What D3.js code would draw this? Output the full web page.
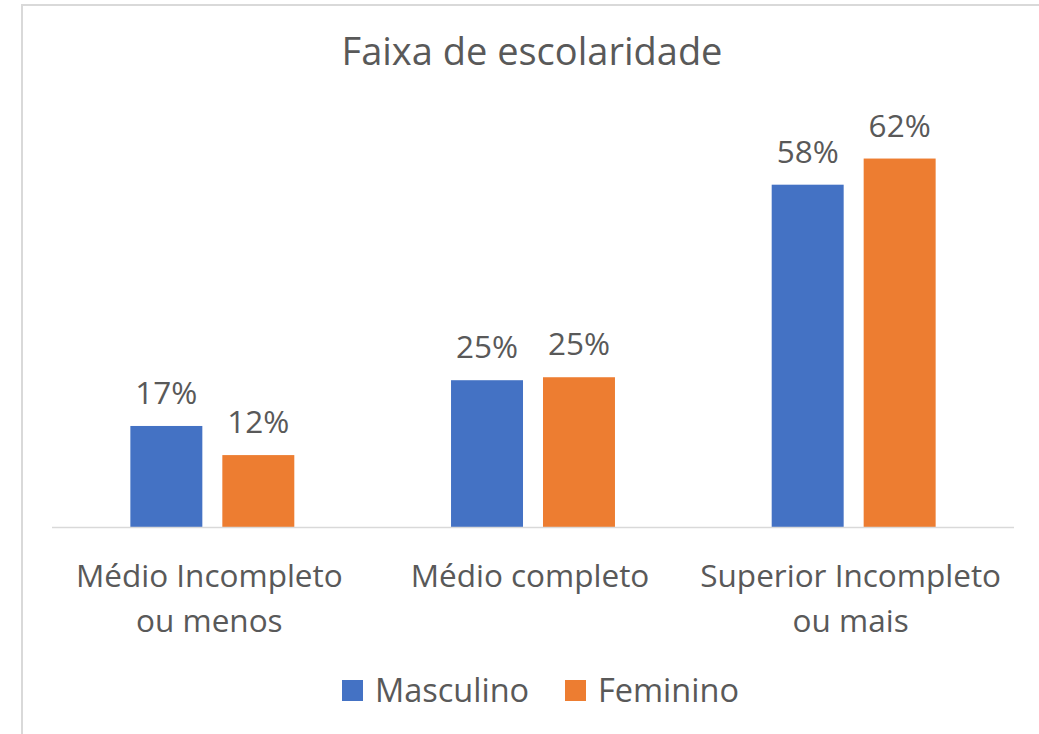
<!DOCTYPE html>
<html lang="en">
<head>
    <meta charset="UTF-8">
    <title>Faixa de escolaridade</title>
    <script src="https://d3js.org/d3.v7.min.js"></script>
    <style>
        body { margin: 0; background: #fff; }
        text { font-family: "Open Sans", "Noto Sans", sans-serif; fill: #595959; }
    </style>
</head>
<body>
    <svg></svg>
    <script>
        const categories = [["Médio Incompleto", "ou menos"], ["Médio completo"], ["Superior Incompleto", "ou mais"]];
        const series = ["Masculino", "Feminino"];
        const masculino = [17, 24.7, 57.6];
        const feminino = [12.1, 25.2, 62];
        const colors = ["#4472C4", "#ED7D31"];

        const width = 1039;
        const height = 734;

        const svg = d3.select("svg")
            .attr("width", width)
            .attr("height", height);

        // chart frame (runs off the right and bottom edge)
        svg.append("rect")
            .attr("x", 22)
            .attr("y", 5)
            .attr("width", 1100)
            .attr("height", 800)
            .attr("fill", "none")
            .attr("stroke", "#D9D9D9")
            .attr("stroke-width", 2);

        svg.append("text")
            .attr("x", 532)
            .attr("y", 65)
            .attr("text-anchor", "middle")
            .style("font-size", "38px")
            .text("Faixa de escolaridade");

        const x0 = d3.scaleBand()
            .domain(d3.range(categories.length))
            .range([52, 1014]);

        const x1 = d3.scaleBand()
            .domain(series)
            .range([0, x0.bandwidth()])
            .paddingInner(0.2174)
            .paddingOuter(0.852);

        const y = d3.scaleLinear()
            .domain([0, 70])
            .range([527, 111]);

        const rows = categories.map((c, i) => ({
            i: i,
            values: [masculino[i], feminino[i]]
        }));

        const groups = svg.selectAll(".group")
            .data(rows)
            .enter()
            .append("g")
            .attr("class", "group")
            .attr("transform", d => `translate(${x0(d.i)},0)`);

        groups.selectAll("rect")
            .data(d => d.values.map((v, j) => ({ key: series[j], value: v, j: j })))
            .enter()
            .append("rect")
            .attr("x", d => x1(d.key))
            .attr("y", d => y(d.value))
            .attr("width", x1.bandwidth())
            .attr("height", d => y(0) - y(d.value))
            .attr("fill", d => colors[d.j]);

        groups.selectAll(".label")
            .data(d => d.values.map((v, j) => ({ key: series[j], value: v, j: j })))
            .enter()
            .append("text")
            .attr("class", "label")
            .attr("x", d => x1(d.key) + x1.bandwidth() / 2)
            .attr("y", d => y(d.value) - 22)
            .attr("text-anchor", "middle")
            .style("font-size", "31.5px")
            .text(d => Math.round(d.value) + "%");

        // baseline
        svg.append("line")
            .attr("x1", 52)
            .attr("x2", 1014)
            .attr("y1", y(0) + 0.5)
            .attr("y2", y(0) + 0.5)
            .attr("stroke", "#D9D9D9")
            .attr("stroke-width", 1.5);

        // category labels
        const catLabels = svg.selectAll(".cat")
            .data(categories)
            .enter()
            .append("text")
            .attr("class", "cat")
            .attr("text-anchor", "middle")
            .style("font-size", "31.5px");

        catLabels.selectAll("tspan")
            .data((d, i) => d.map(line => ({ line: line, i: i })))
            .enter()
            .append("tspan")
            .attr("x", d => x0(d.i) + x0.bandwidth() / 2 - 3)
            .attr("y", (d, k) => 587 + k * 45)
            .text(d => d.line);

        // legend
        const legendX = [342, 565];
        const legend = svg.selectAll(".legend")
            .data(series)
            .enter()
            .append("g")
            .attr("class", "legend")
            .attr("transform", (d, i) => `translate(${legendX[i]},680)`);

        legend.append("rect")
            .attr("width", 21)
            .attr("height", 21)
            .attr("fill", (d, i) => colors[i]);

        legend.append("text")
            .attr("x", 33)
            .attr("y", 22)
            .style("font-size", "32.5px")
            .text(d => d);
    </script>
</body>
</html>
